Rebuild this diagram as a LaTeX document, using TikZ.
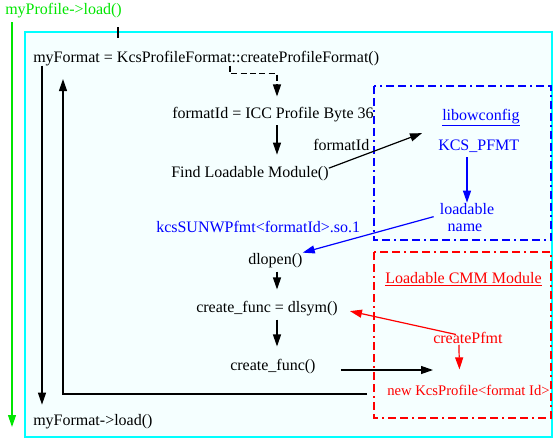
\documentclass[tikz,border=0pt]{standalone}
\usepackage{fontspec}
\setmainfont{Liberation Serif}
\usetikzlibrary{arrows.meta,calc}

\definecolor{callgreen}{RGB}{0,230,0}
\definecolor{framecyan}{RGB}{0,255,255}
\definecolor{framefill}{RGB}{245,255,255}

\begin{document}
\begin{tikzpicture}[x=0.75pt,y=-0.75pt,
    txt/.style={inner sep=0pt, anchor=base west, font=\fontsize{12}{14}\selectfont},
    flow/.style={line width=0.9pt, -{Triangle[length=9pt,width=6pt]}},
    modbox/.style={line width=1pt, dash pattern=on 6pt off 3pt on 6pt off 3pt on 1.5pt off 3pt}]
      \useasboundingbox (0,0) rectangle (553,439);
      \begin{scope}
        % frames
        \draw[framecyan, line width=1.2pt, fill=framefill] (25,32) rectangle (552,437);
        \draw[blue, modbox] (374,86) rectangle (551,240);
        \draw[red, modbox] (374,252) rectangle (551,418);

        \node[txt, text=callgreen] (mp) at (5,14.5) {myProfile->load()};
        \node[txt] (mf) at (33,62) {myFormat = KcsProfileFormat::createProfileFormat()};
        \node[txt] (fid) at (172,118) {formatId = ICC Profile Byte 36};
        \node[txt] (find) at (171,177) {Find Loadable Module()};
        \node[txt] (fidlbl) at (313,150) {formatId};
        \node[txt, text=blue] (kcsname) at (156,232) {kcsSUNWPfmt<formatId>.so.1};
        \node[txt] (dlo) at (248,264) {dlopen()};
        \node[txt] (dls) at (196,312) {create\_func = dlsym()};
        \node[txt] (cf) at (230,370) {create\_func()};
        \node[txt] (ml) at (33,425) {myFormat->load()};

        \node[txt, text=blue] (lib) at (442,120) {\underline{libowconfig}};
        \node[txt, text=blue] (kcs) at (438,150) {KCS\_PFMT};
        \node[txt, anchor=base, text=blue] (ld) at (467,214) {loadable};
        \node[txt, anchor=base, text=blue] (ldname) at (465,231) {name};

        \node[txt, text=red] (cmm) at (385,283) {\underline{Loadable CMM Module}};
        \node[txt, text=red] (cpf) at (433,343) {createPfmt};
        \node[txt, text=red, font=\fontsize{11}{13}\selectfont] (npf) at (387,395) {new KcsProfile<format Id>};

        \coordinate (spine) at (277,0);

        % caller
        \draw[flow, callgreen] ([xshift=5.25pt,yshift=-3pt]mp.south west) -- ([xshift=5.25pt,yshift=-1.5pt]mp.south west |- ml.base);
        \draw[line width=0.9pt] ([xshift=-3pt,yshift=-6.75pt]mp.south east) -- ++(0,11);

        % main flow
        \draw[flow, dash pattern=on 4.5pt off 2.5pt] ([xshift=147.75pt]mf.south west) -- ++(0,8) -| ([yshift=7.5pt]fid.north -| spine);
        \draw[flow] ([yshift=-2.5pt]fid.south -| spine) -- ([yshift=8.25pt]find.north -| spine);
        \draw[flow] ([yshift=-3pt]dlo.south -| spine) -- ([yshift=8.25pt]dls.north -| spine);
        \draw[flow] ([yshift=-3pt]dls.south -| spine) -- ([yshift=9pt]cf.north -| spine);
        \draw[flow] ([xshift=6.75pt]mf.south west) -- ([xshift=6.75pt,yshift=6.75pt]ml.north west);
        \draw[flow] ([xshift=-15pt,yshift=0.75pt]npf.base west) -| ([xshift=22.5pt,yshift=-10pt]mf.south west);

        % module lookup
        \draw[flow] ([yshift=3.75pt]find.east) -- ([xshift=-12pt,yshift=4.5pt]kcs.north west);
        \draw[flow, blue] ([yshift=-3.75pt]kcs.south -| ld.north) -- (ld.north);
        \draw[flow, blue] ([xshift=-4.5pt,yshift=-2pt]ld.base west) -- (dlo.north east);

        % loaded module
        \draw[flow] ([xshift=18.75pt]cf.base east) -- (cf.base east -| cpf.west);
        \draw[flow, red] ([xshift=-9pt,yshift=-2.25pt]cpf.north) -- ([xshift=9pt,yshift=-2.25pt]dls.east);
        \draw[flow, red] ([xshift=-6.75pt,yshift=-1pt]cpf.south) -- ([xshift=-6.75pt,yshift=11.25pt]npf.north);
      \end{scope}
    \end{tikzpicture}
\end{document}
